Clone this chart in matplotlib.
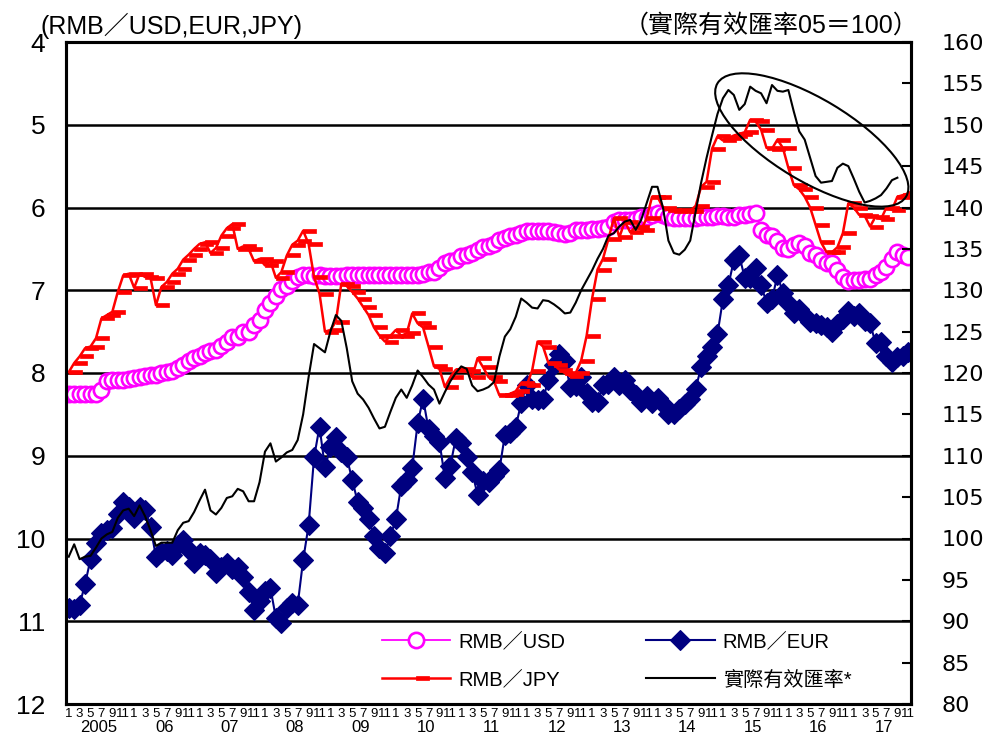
import matplotlib
matplotlib.use("Agg")
import matplotlib.pyplot as plt
from matplotlib.path import Path
from matplotlib.patches import Ellipse
from matplotlib.transforms import IdentityTransform, blended_transform_factory
from matplotlib import font_manager
import numpy as np

# ---------------- data (monthly, Jan 2005 - Nov 2017) ----------------
year_labels = ['2005', '06', '07', '08', '09', '10', '11', '12', '13', '14', '15', '16', '17']

rmb_usd = [
    8.25, 8.25, 8.25, 8.25, 8.25, 8.25, 8.20, 8.10, 8.09, 8.09, 8.08, 8.07,
    8.06, 8.05, 8.04, 8.02, 8.02, 8.00, 7.99, 7.97, 7.94, 7.90, 7.86, 7.82,
    7.79, 7.76, 7.74, 7.72, 7.67, 7.63, 7.57, 7.56, 7.51, 7.50, 7.42, 7.36,
    7.24, 7.16, 7.07, 6.99, 6.95, 6.89, 6.84, 6.82, 6.82, 6.83, 6.82, 6.83,
    6.83, 6.83, 6.83, 6.82, 6.82, 6.82, 6.82, 6.82, 6.82, 6.82, 6.82, 6.82,
    6.82, 6.82, 6.82, 6.82, 6.82, 6.80, 6.78, 6.78, 6.73, 6.67, 6.65, 6.64,
    6.59, 6.57, 6.55, 6.51, 6.48, 6.46, 6.44, 6.39, 6.37, 6.35, 6.33, 6.31,
    6.29, 6.28, 6.29, 6.28, 6.29, 6.30, 6.31, 6.32, 6.31, 6.27, 6.27, 6.27,
    6.26, 6.26, 6.25, 6.23, 6.17, 6.15, 6.15, 6.15, 6.14, 6.12, 6.11, 6.09,
    6.07, 6.09, 6.12, 6.13, 6.13, 6.13, 6.13, 6.13, 6.12, 6.11, 6.11, 6.10,
    6.10, 6.11, 6.11, 6.09, 6.09, 6.08, 6.07, 6.27, 6.33, 6.34, 6.40, 6.49,
    6.50, 6.45, 6.43, 6.47, 6.55, 6.58, 6.63, 6.67, 6.67, 6.75, 6.84, 6.89,
    6.88, 6.88, 6.87, 6.86, 6.82, 6.78, 6.72, 6.62, 6.54, 6.58, 6.60,
]

rmb_eur = [
    10.84, 10.85, 10.80, 10.55, 10.25, 10.05, 9.93, 9.90, 9.87, 9.70, 9.56, 9.62,
    9.75, 9.62, 9.65, 9.86, 10.22, 10.16, 10.15, 10.20, 10.08, 10.02, 10.14, 10.30,
    10.18, 10.20, 10.25, 10.42, 10.35, 10.30, 10.37, 10.34, 10.46, 10.65, 10.86, 10.75,
    10.64, 10.60, 10.96, 11.02, 10.84, 10.78, 10.80, 10.26, 9.84, 9.02, 8.65, 9.14,
    8.90, 8.77, 8.96, 9.02, 9.29, 9.56, 9.63, 9.77, 9.97, 10.11, 10.18, 9.97,
    9.77, 9.36, 9.29, 9.15, 8.61, 8.31, 8.68, 8.76, 8.83, 9.27, 9.12, 8.79,
    8.84, 9.01, 9.20, 9.47, 9.30, 9.32, 9.24, 9.17, 8.75, 8.73, 8.65, 8.36,
    8.14, 8.32, 8.33, 8.32, 8.08, 7.90, 7.77, 7.86, 8.17, 8.16, 8.05, 8.24,
    8.35, 8.35, 8.15, 8.13, 8.05, 8.14, 8.08, 8.21, 8.27, 8.35, 8.28, 8.36,
    8.30, 8.38, 8.49, 8.50, 8.44, 8.38, 8.32, 8.19, 7.93, 7.80, 7.68, 7.53,
    7.11, 6.94, 6.64, 6.58, 6.85, 6.85, 6.73, 6.94, 7.15, 7.11, 6.82, 7.03,
    7.15, 7.27, 7.23, 7.31, 7.38, 7.40, 7.42, 7.45, 7.50, 7.41, 7.35, 7.25,
    7.31, 7.28, 7.37, 7.40, 7.64, 7.63, 7.79, 7.87, 7.81, 7.80, 7.75,
]

rmb_jpy = [
    7.99, 7.88, 7.80, 7.70, 7.68, 7.58, 7.34, 7.30, 7.26, 7.02, 6.82, 6.80,
    6.97, 6.80, 6.84, 6.85, 7.18, 6.96, 6.90, 6.80, 6.74, 6.63, 6.57, 6.50,
    6.44, 6.42, 6.55, 6.49, 6.34, 6.25, 6.20, 6.50, 6.47, 6.50, 6.65, 6.62,
    6.70, 6.65, 6.85, 6.78, 6.58, 6.45, 6.40, 6.28, 6.44, 6.84, 7.04, 7.50,
    7.48, 7.38, 6.92, 6.95, 7.02, 7.10, 7.20, 7.30, 7.45, 7.55, 7.62, 7.55,
    7.48, 7.55, 7.52, 7.28, 7.40, 7.45, 7.68, 7.92, 7.95, 8.17, 8.05, 7.96,
    7.95, 7.98, 8.05, 7.82, 7.93, 8.05, 8.10, 8.27, 8.27, 8.25, 8.22, 8.12,
    8.15, 7.97, 7.62, 7.68, 7.88, 7.90, 7.96, 8.00, 8.04, 8.00, 7.85, 7.55,
    7.10, 6.75, 6.62, 6.38, 6.13, 6.36, 6.17, 6.30, 6.23, 6.27, 6.13, 5.87,
    5.87, 6.00, 6.03, 6.04, 6.03, 6.04, 6.04, 5.98, 5.75, 5.69, 5.29, 5.14,
    5.19, 5.16, 5.13, 5.11, 5.09, 4.94, 4.96, 5.06, 5.28, 5.29, 5.18, 5.28,
    5.52, 5.73, 5.78, 5.87, 6.00, 6.21, 6.42, 6.54, 6.54, 6.48, 6.31, 5.95,
    6.00, 6.09, 6.10, 6.23, 6.11, 6.14, 6.00, 6.03, 5.87, 5.85, 5.83,
]

reer = [
    97.8, 99.3, 97.5, 97.8, 97.9, 98.9, 100.0, 100.5, 100.8, 102.5, 103.4, 103.6,
    102.7, 104.0, 102.7, 101.0, 99.1, 99.5, 99.5, 99.5, 101.0, 101.9, 102.1, 103.2,
    104.6, 105.9, 103.4, 102.9, 103.7, 104.9, 105.1, 106.0, 105.7, 104.5, 104.5, 106.8,
    110.5, 111.5, 109.3, 109.8, 110.4, 110.7, 111.9, 115.0, 119.5, 123.5, 123.0, 122.5,
    125.0, 127.0, 126.3, 123.0, 119.0, 117.5, 116.8, 115.8, 114.5, 113.3, 113.5, 115.3,
    117.0, 118.0, 117.0, 118.5, 120.3, 119.5, 118.6, 118.0, 116.3, 117.7, 119.0, 120.0,
    120.8, 120.5, 118.5, 117.8, 118.0, 118.3, 118.9, 122.0, 124.4, 125.3, 126.8, 129.0,
    128.5, 127.9, 127.8, 128.8, 128.7, 128.3, 127.8, 127.2, 127.3, 128.5, 130.0, 131.2,
    132.4, 133.8, 135.0, 136.6, 136.9, 137.7, 138.3, 138.5, 137.3, 138.5, 140.5, 142.5,
    142.5, 140.0, 136.0, 134.5, 134.3, 134.9, 136.0, 139.5, 143.0, 146.0, 148.7, 151.3,
    153.2, 154.2, 153.6, 151.8, 152.5, 154.6, 154.1, 153.8, 152.6, 154.8, 154.1, 154.0,
    154.2, 151.6, 149.2, 148.2, 146.0, 143.8, 143.0, 143.1, 143.2, 144.8, 145.3, 145.0,
    143.5, 141.9, 140.6, 140.8, 141.1, 141.5, 142.3, 143.3, 143.6,
]

# ---------------- fonts ----------------
fams = {f.name for f in font_manager.fontManager.ttflist}
base = 'Liberation Sans' if 'Liberation Sans' in fams else 'DejaVu Sans'
narrow = 'Liberation Sans Narrow' if 'Liberation Sans Narrow' in fams else base
plt.rcParams['font.family'] = [base, 'Noto Sans CJK TC', 'DejaVu Sans']

W, H = 989, 743
L, R, T, B = 66, 911, 42, 704
fig = plt.figure(figsize=(W / 100, H / 100), dpi=100)
ax = fig.add_axes([L / W, 1 - B / H, (R - L) / W, (B - T) / H])
ax2 = ax.twinx()

x = np.arange(len(rmb_usd))
l_usd, = ax.plot(x, rmb_usd, color='#FF00FF', lw=1.3, marker='o', ms=11,
                 mfc='white', mec='#FF00FF', mew=1.9, label='RMB／USD', zorder=3)
l_eur, = ax.plot(np.arange(len(rmb_eur)), rmb_eur, color='#000080', lw=1.5, marker='D', ms=10.5,
                 mfc='#000080', mec='#000080', mew=0.8, label='RMB／EUR', zorder=4)
dash = Path([(0, -0.18), (1, -0.18), (1, 0.18), (0, 0.18), (0, -0.18)],
            [Path.MOVETO, Path.LINETO, Path.LINETO, Path.LINETO, Path.CLOSEPOLY])
l_jpy, = ax.plot(np.arange(len(rmb_jpy)), rmb_jpy, color='#FF0000', lw=1.8, marker=dash, ms=19,
                 mfc='#FF0000', mec='#FF0000', mew=0.5, label='RMB／JPY', zorder=5)
l_reer, = ax2.plot(np.arange(len(reer)), reer, color='black', lw=1.5, label='實際有效匯率*')

# axes limits / ticks
ax.set_xlim(-0.5, len(rmb_usd) - 0.5)
ax.set_ylim(12, 4)
ax.set_yticks(range(4, 13))
ax.tick_params(axis='y', length=0, pad=15, labelsize=19)
ax.grid(axis='y', color='black', lw=1.8)
ax.grid(axis='x', visible=False)

ax.set_xticks(x[::2])
ax.set_xticklabels([str(i % 12 + 1) for i in x[::2]], fontfamily=narrow, fontsize=9.5)
ax.tick_params(axis='x', length=0, pad=3)

ax2.set_ylim(80, 160)
ax2.set_yticks(range(80, 161, 5))
ax2.tick_params(axis='y', direction='in', length=6.5, width=1.5, pad=22,
                labelsize=16, labelfontfamily='DejaVu Sans')

for a in (ax, ax2):
    for s in a.spines.values():
        s.set_linewidth(2.2)
        s.set_color('black')

# year labels
trans = blended_transform_factory(ax.transData, fig.transFigure)
for k, yl in enumerate(year_labels):
    ax.text(12 * k + 5.5, 1 - 728 / H, yl, transform=trans, ha='center', va='center',
            fontsize=12, fontfamily=base)

# titles
fig.text(40 / W, 1 - 26 / H, '(RMB／USD,EUR,JPY)', fontsize=18, ha='left', va='center')
fig.text(918 / W, 1 - 26 / H, '（實際有效匯率05＝100）', fontsize=18, ha='right', va='center')

# legend
ax2.legend(handles=[l_usd, l_jpy, l_eur, l_reer], loc='upper left',
           bbox_to_anchor=(382 / W, 1 - 632 / H), bbox_transform=fig.transFigure,
           ncol=2, frameon=False, fontsize=14.5, handlelength=3.4, handletextpad=0.4,
           columnspacing=4.0, labelspacing=0.95, borderpad=0, borderaxespad=0)

# ellipse highlight
cx, cy = ax.transData.transform((136.3, 5.184))
ell = Ellipse((cx, cy), 220, 82, angle=-31, transform=IdentityTransform(),
              fill=False, ec='black', lw=1.5)
fig.add_artist(ell)

fig.savefig('out.png', dpi=100)
